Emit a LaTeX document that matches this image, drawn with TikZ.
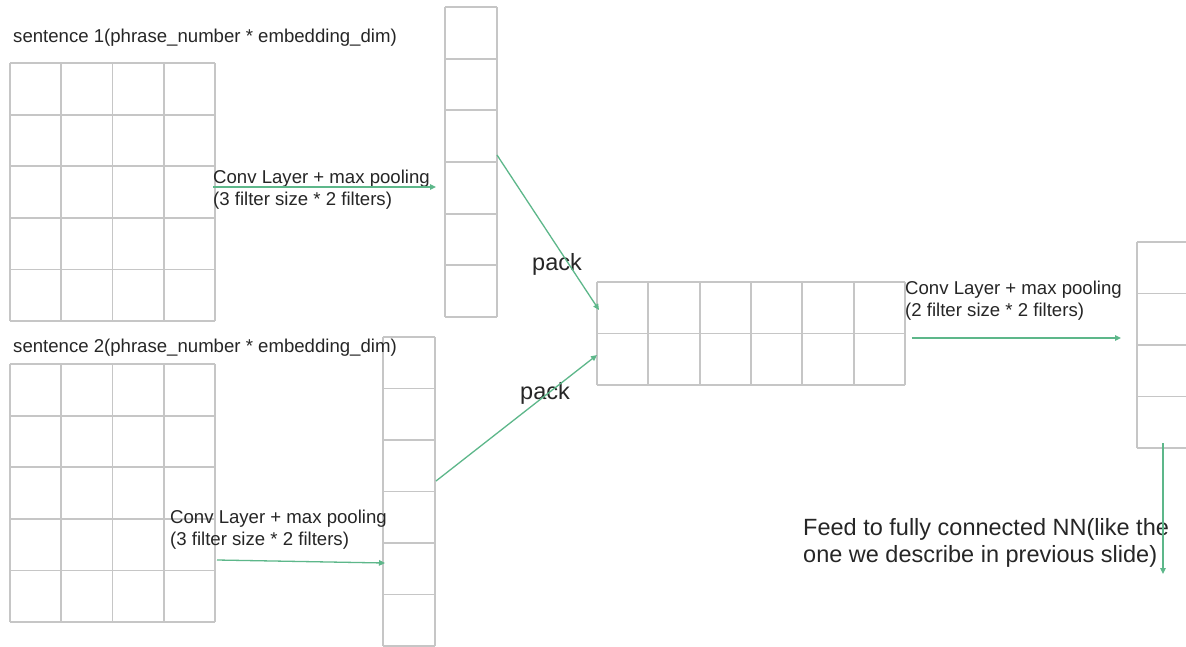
\documentclass[tikz,border=0pt]{standalone}
\usepackage{fontspec}
\setmainfont{Liberation Sans}
\usetikzlibrary{arrows.meta,calc}
\definecolor{gridgray}{HTML}{C6C6C6}
\definecolor{arrowgreen}{HTML}{5DB78A}
\definecolor{txt}{HTML}{262626}
% #1 name, #2 x, #3 y (top-left), #4 cols, #5 rows, #6 cell width, #7 cell height
\newcommand\cellgrid[7]{%
  \node[gridbox,minimum width={#4*#6*1pt},minimum height={#5*#7*1pt}] (#1) at (#2,#3) {};
  \foreach \i in {0,...,#4} \draw[gridline] ($(#1.north west)+(\i*#6,0)$) -- ($(#1.south west)+(\i*#6,0)$);
  \foreach \j in {0,...,#5} \draw[gridline] ($(#1.north west)+(0,\j*#7)$) -- ($(#1.north east)+(0,\j*#7)$);
}
\begin{document}
\begin{tikzpicture}[x=1pt,y=-1pt,
  gridbox/.style={inner sep=0pt,outer sep=0pt,anchor=north west},
  gridline/.style={draw=gridgray,line width=1.8pt},
  flow/.style={draw=arrowgreen,line width=1.3pt,-{Triangle[length=6pt,width=5.5pt]}},
  small/.style={font=\fontsize{18.6}{22}\selectfont,text=txt,inner sep=0pt,anchor=base west,align=left},
  big/.style={font=\fontsize{23.5}{27}\selectfont,text=txt,inner sep=0pt,anchor=base west,align=left}]
\useasboundingbox (0,0) rectangle (1186,646);
\fill[white] (0,0) rectangle (1186,646);

\cellgrid{g1}{10}{63}{4}{5}{51.25}{51.6}
\cellgrid{g2}{10}{364}{4}{5}{51.25}{51.6}
\cellgrid{v1}{445}{7}{1}{6}{52}{51.67}
\cellgrid{v2}{383}{337}{1}{6}{52}{51.5}
\cellgrid{m}{597}{282}{6}{2}{51.33}{51.5}
\cellgrid{v3}{1137}{242}{1}{4}{52}{51.5}

\node[small] (s1) at (13,42.5) {sentence 1(phrase\_number * embedding\_dim)};
\node[small] (s2) at (13,352) {sentence 2(phrase\_number * embedding\_dim)};
\node[small] (c1) at (213,205) {Conv Layer + max pooling\\(3 filter size * 2 filters)};
\node[small] (c2) at (170,545) {Conv Layer + max pooling\\(3 filter size * 2 filters)};
\node[small] (c3) at (905,316) {Conv Layer + max pooling\\(2 filter size * 2 filters)};
\node[big] (p1) at (532,270) {pack};
\node[big] (p2) at (520,399) {pack};
\node[big] (fd) at (803,562) {Feed to fully connected NN(like the\\one we describe in previous slide)};

\draw[flow] ($(g1.north east)+(-2,124)$) -- ($(v1.north west)+(-9,180)$);
\draw[flow] ($(g2.north east)+(2,196)$) -- ($(v2.north west)+(2,226)$);
\draw[flow] ($(v1.north east)+(0,148)$) -- ($(m.north west)+(2,28)$);
\draw[flow] ($(v2.north east)+(1,144)$) -- ($(m.north west)+(0,73)$);
\draw[flow] ($(m.north east)+(7,56)$) -- ($(v3.north west)+(-16,96)$);
\draw[flow] ($(v3.south west)+(26,-5)$) -- ($(v3.south west)+(26,126)$);
\end{tikzpicture}
\end{document}
